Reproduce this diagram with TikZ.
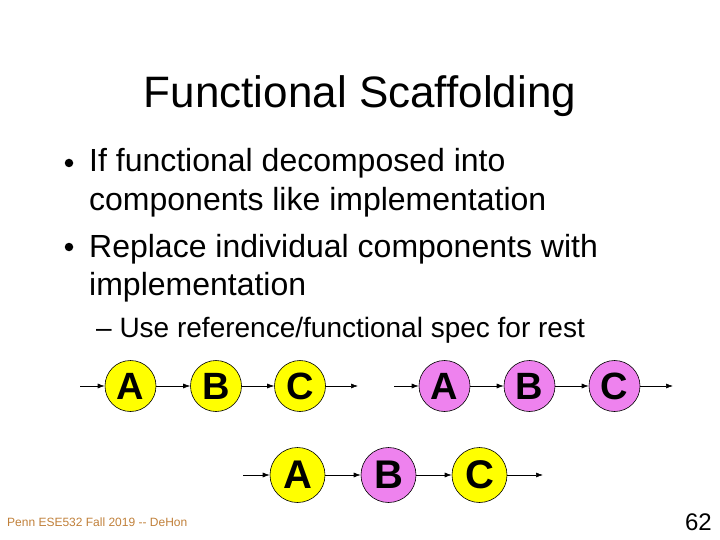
\documentclass[tikz,border=0pt]{standalone}
\usepackage{fontspec}
\setmainfont{Liberation Sans}
\usetikzlibrary{arrows.meta}
\definecolor{ylw}{HTML}{FFFF00}
\definecolor{pnk}{HTML}{EE82EE}
\definecolor{foot}{HTML}{C0803A}
\tikzset{
  blk/.style={circle, draw=black, line width=0.6pt, minimum size=51pt, inner sep=0pt, font=\fontsize{38}{38}\selectfont\bfseries},
  blkbig/.style={blk, minimum size=55pt, font=\fontsize{40}{40}\selectfont\bfseries},
  yb/.style={fill=ylw},
  pb/.style={fill=pnk},
  conn/.style={-{Latex[length=7pt,width=5pt]}, line width=0.6pt},
  txt/.style={anchor=base west, inner sep=0pt, font=\fontsize{32}{32}\selectfont},
  dot/.style={circle, fill=black, minimum size=8.5pt, inner sep=0pt},
}
\begin{document}
\begin{tikzpicture}[x=1pt,y=-1pt]
\useasboundingbox (0,0) rectangle (720,540);
\node[anchor=base, inner sep=0pt, font=\fontsize{44}{44}\selectfont] (title) at (360,108) {Functional Scaffolding};
\node[dot] (b1) at (69,163) {};
\node[txt] (l1) at (89,172) {If functional decomposed into};
\node[txt] (l2) at (89,211) {components like implementation};
\node[dot] (b2) at (69,247) {};
\node[txt] (l3) at (89,257) {Replace individual components with};
\node[txt] (l4) at (89,295) {implementation};
\node[txt, font=\fontsize{28}{28}\selectfont] (l5) at (96,337) {– Use reference/functional spec for rest};
% row 1 yellow
\coordinate (y0) at (80,386);
\node[blk,yb] (ya) at (130.5,386) {A};
\node[blk,yb] (yb) at (216,386) {B};
\node[blk,yb] (yc) at (300,386) {C};
\coordinate (y9) at (358,386);
\draw[conn] (y0) -- (ya);
\draw[conn] (ya) -- (yb);
\draw[conn] (yb) -- (yc);
\draw[conn] (yc) -- (y9);
% row 1 pink
\coordinate (p0) at (394,386);
\node[blk,pb] (pa) at (444.5,386) {A};
\node[blk,pb] (pbb) at (529.5,386) {B};
\node[blk,pb] (pc) at (614.5,386) {C};
\coordinate (p9) at (673,386);
\draw[conn] (p0) -- (pa);
\draw[conn] (pa) -- (pbb);
\draw[conn] (pbb) -- (pc);
\draw[conn] (pc) -- (p9);
% row 2 mixed
\coordinate (m0) at (243,475);
\node[blkbig,yb] (ma) at (297.5,475) {A};
\node[blkbig,pb] (mb) at (388.5,475) {B};
\node[blkbig,yb] (mc) at (479.5,475) {C};
\coordinate (m9) at (543,475);
\draw[conn] (m0) -- (ma);
\draw[conn] (ma) -- (mb);
\draw[conn] (mb) -- (mc);
\draw[conn] (mc) -- (m9);
% footer
\node[anchor=base west, inner sep=0pt, text=foot, font=\fontsize{12}{12}\selectfont] (ft) at (7,526) {Penn ESE532 Fall 2019 -{}- DeHon};
\node[anchor=base east, inner sep=0pt, font=\fontsize{24}{24}\selectfont] (pg) at (712,530) {62};
\end{tikzpicture}
\end{document}
